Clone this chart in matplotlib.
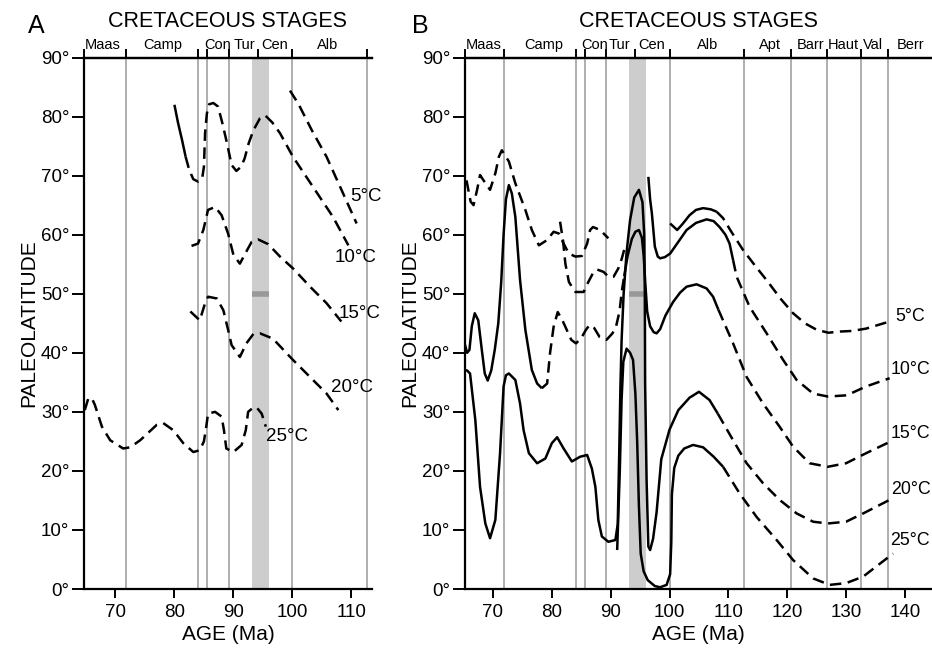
import matplotlib
matplotlib.use("Agg")
import matplotlib.pyplot as plt

plt.rcParams['font.family'] = ['Liberation Sans', 'DejaVu Sans']

# ---------------- shared axis data ----------------
lat_ticks = [0, 10, 20, 30, 40, 50, 60, 70, 80, 90]
lat_tick_labels = [f"{v}°" for v in lat_ticks]

age_ticks_a = [70, 80, 90, 100, 110]
age_ticks_b = [70, 80, 90, 100, 110, 120, 130, 140]

# stage boundaries (Ma); Tur/Cen boundary sits under the grey band
boundaries_a = [71.8, 84.0, 85.5, 89.2, 100.0, 112.6]
boundaries_b = [71.9, 84.1, 85.6, 89.2, 100.0, 112.7, 120.7, 126.8, 132.6, 137.1]
tur_cen = 94.1
band = (93.1, 96.0)
band_mark_lat = 50

stages_a = ['Maas', 'Camp', 'Con', 'Tur', 'Cen', 'Alb']
stage_pos_a = [67.9, 78.0, 87.3, 91.9, 97.0, 106.0]
stages_b = ['Maas', 'Camp', 'Con', 'Tur', 'Cen', 'Alb', 'Apt', 'Barr', 'Haut', 'Val', 'Berr']
stage_pos_b = [68.5, 78.7, 87.3, 91.5, 97.0, 106.5, 117.0, 124.0, 129.6, 134.5, 141.0]

iso_labels = ['5°C', '10°C', '15°C', '20°C', '25°C']

# ---------------- panel A isotherms (age Ma, paleolatitude) ----------------
a10_solid_age = [80.0, 80.6, 81.3, 81.9]
a10_solid_lat = [82.0, 79.0, 76.0, 73.2]
a10_dash_age = [81.9, 82.5, 83.2, 84.0, 84.7, 85.0, 85.2, 85.5, 85.9, 86.6, 87.4, 88.1,
                88.8, 89.7, 90.5, 91.3, 91.9, 92.6, 93.4, 94.5, 95.4, 96.6, 97.9, 100.1,
                103.5, 106.9, 109.5]
a10_dash_lat = [73.2, 71.0, 69.4, 69.0, 69.5, 71.5, 77.2, 80.5, 82.1, 82.3, 81.7, 79.0,
                76.0, 71.8, 70.8, 71.5, 72.9, 75.5, 77.7, 79.7, 80.2, 79.0, 77.2, 73.2,
                68.1, 63.0, 58.2]
a5_dash_age = [99.6, 101.0, 103.4, 105.8, 108.6, 110.9]
a5_dash_lat = [84.4, 82.2, 77.5, 73.2, 67.0, 61.9]
a15_dash_age = [82.9, 84.0, 84.9, 85.7, 86.9, 88.0, 89.1, 90.0, 91.1, 91.9, 93.1, 94.2,
                95.9, 97.9, 100.1, 103.0, 105.8, 108.3]
a15_dash_lat = [58.1, 58.5, 60.8, 64.2, 64.7, 63.3, 60.2, 56.6, 55.1, 56.6, 58.8, 59.2,
                58.4, 56.3, 54.3, 51.2, 48.4, 45.3]
a20_dash_age = [82.7, 84.3, 85.2, 85.7, 87.2, 88.3, 89.1, 89.7, 91.1, 92.2, 93.4, 94.5,
                96.7, 100.1, 103.5, 105.8, 107.8]
a20_dash_lat = [47.0, 45.5, 48.4, 49.5, 49.2, 47.2, 43.9, 41.3, 39.3, 41.6, 43.2, 43.3,
                42.4, 38.8, 35.4, 33.1, 30.3]
a25_dash_age = [64.8, 65.4, 66.0, 66.5, 67.7, 69.1, 71.3, 72.5, 74.2, 77.0, 78.1, 79.8,
                81.5, 83.2, 84.3, 85.0, 85.4, 85.7, 86.9, 88.0, 88.4, 88.8, 90.0, 91.4,
                92.1, 92.5, 93.2, 93.9, 94.8, 95.5]
a25_dash_lat = [30.3, 32.3, 32.3, 31.2, 27.5, 25.2, 23.8, 24.0, 25.2, 27.8, 28.1, 26.9,
                24.7, 23.2, 23.5, 25.0, 27.5, 29.7, 30.0, 29.2, 26.9, 23.8, 23.2, 24.4,
                26.9, 30.0, 30.6, 30.8, 29.7, 27.5]

label_age_a = [109.8, 107.2, 107.8, 106.6, 95.6]
label_lat_a = [66.4, 56.1, 46.7, 34.1, 25.8]

# ---------------- panel B isotherms ----------------
b5_dash1_age = [65.5, 66.2, 66.7, 67.3, 67.8, 68.4, 69.5, 70.4, 71.0, 71.5, 72.7, 73.8,
                75.5, 76.6, 77.8, 79.2, 80.3, 81.2, 82.0, 82.9, 84.0, 85.1, 86.0, 86.5,
                87.0, 88.2, 89.6]
b5_dash1_lat = [69.2, 65.6, 65.0, 67.6, 70.1, 69.2, 67.6, 70.4, 73.2, 74.3, 72.4, 68.7,
                64.2, 60.8, 58.2, 59.1, 60.5, 60.2, 58.5, 56.8, 56.3, 56.4, 58.5, 60.8,
                61.3, 60.8, 59.4]
b5_solid_age = [100.1, 101.3, 102.2, 103.4, 104.5, 105.7, 107.0, 108.0]
b5_solid_lat = [61.9, 60.8, 61.8, 63.3, 64.2, 64.5, 64.3, 63.9]
b5_dash2_age = [108.0, 109.1, 110.5, 112.5, 114.5, 116.5, 119.0, 121.0, 123.0, 125.0,
                127.0, 128.9, 131.0, 133.4, 137.4]
b5_dash2_lat = [63.9, 62.8, 60.5, 57.4, 54.8, 52.3, 49.0, 46.7, 45.0, 43.9,
                43.4, 43.6, 43.7, 44.1, 45.3]

b10_dash1_age = [81.4, 81.9, 82.3, 82.9, 83.4, 84.0, 85.4, 86.2, 87.1, 87.7, 88.8, 89.6,
                 90.5, 91.3, 91.9, 92.3]
b10_dash1_lat = [62.2, 59.0, 55.1, 52.0, 51.2, 50.3, 50.3, 52.0, 53.7, 54.1, 53.7, 52.9,
                 52.9, 54.3, 56.0, 57.5]
b10_solid_age = [96.4, 96.7, 97.0, 97.5, 98.0, 98.4, 99.2, 100.1, 101.5, 102.9, 104.5,
                 106.3, 107.5, 108.5, 109.5, 110.2, 110.8]
b10_solid_lat = [69.8, 66.0, 63.6, 58.0, 56.3, 56.0, 56.2, 56.8, 58.8, 60.8, 62.0,
                 62.6, 62.3, 61.3, 60.0, 58.5, 55.7]
b10_dash2_age = [110.8, 111.4, 113.6, 116.5, 119.3, 121.6, 124.4, 126.9, 130.1, 133.4, 137.4]
b10_dash2_lat = [55.7, 52.9, 47.8, 43.3, 38.8, 35.4, 33.1, 32.6, 32.8, 34.3, 35.7]

b15_solid1_age = [65.2, 65.6, 66.0, 66.4, 66.9, 67.5, 68.1, 68.6, 69.1, 69.7, 70.3, 70.9,
                  71.4, 71.8, 72.2, 72.7, 73.2, 73.8, 74.6, 75.5, 76.6, 77.5, 78.3]
b15_solid1_lat = [41.5, 40.0, 40.5, 44.5, 46.7, 45.5, 40.5, 36.5, 35.3, 37.0, 40.5, 45.0,
                  52.0, 60.0, 66.0, 68.4, 67.0, 63.0, 52.3, 43.9, 37.1, 34.8, 34.0]
b15_dash1_age = [78.3, 79.2, 79.7, 80.3, 81.0, 81.8, 82.3, 83.3, 84.1, 85.0, 85.8, 86.4,
                 87.2, 88.1, 89.3, 90.3, 90.9, 91.5, 91.9, 92.3]
b15_dash1_lat = [34.0, 34.8, 40.0, 44.4, 46.9, 45.5, 44.4, 42.2, 41.6, 42.5, 43.9, 44.7,
                 44.2, 42.7, 42.2, 43.3, 44.4, 47.0, 50.5, 53.0]
b15_solid2_age = [92.3, 92.9, 93.6, 94.2, 94.8, 95.3, 95.6, 95.9, 96.2, 96.7, 97.3, 97.8,
                  98.4, 99.3, 100.6, 101.8, 102.9, 104.6, 106.3, 107.4, 108.3]
b15_solid2_lat = [53.0, 56.5, 59.3, 60.5, 60.8, 59.5, 56.5, 51.5, 47.0, 44.5, 43.5, 43.3,
                  44.0, 46.3, 48.6, 50.2, 51.2, 51.6, 50.9, 49.5, 47.3]
b15_dash2_age = [108.3, 110.8, 113.1, 115.9, 118.7, 121.0, 123.8, 126.9, 130.0, 133.4, 137.4]
b15_dash2_lat = [47.3, 41.6, 35.9, 31.4, 27.5, 24.1, 21.3, 20.7, 21.3, 23.0, 24.9]

b20_solid_age = [65.2, 65.6, 66.1, 67.0, 67.8, 68.7, 69.5, 70.4, 71.2, 71.8, 72.2, 72.7,
                 73.8, 74.6, 75.2, 76.1, 77.5, 78.9, 80.0, 80.9, 82.0, 83.4, 84.8, 86.0,
                 86.8, 87.4, 87.9, 88.5, 89.6, 90.8, 91.2, 91.45, 91.65, 91.85, 92.2, 92.7,
                 93.3, 94.0, 94.8, 95.4, 95.7, 95.8, 95.85, 96.1, 96.4, 96.7, 97.2, 97.8,
                 98.6, 100.0, 101.5, 103.4, 105.0, 106.8, 108.2]
b20_solid_lat = [37.1, 37.0, 36.5, 28.6, 17.3, 11.1, 8.6, 11.7, 23.0, 34.3, 36.2, 36.5,
                 35.4, 31.4, 26.9, 23.0, 21.3, 22.1, 24.7, 25.7, 23.8, 21.6, 22.4, 22.7,
                 20.4, 17.3, 11.7, 8.9, 8.0, 8.3, 11.0, 23.0, 34.0, 42.0, 50.0, 57.0,
                 62.5, 66.3, 67.6, 65.5, 60.0, 50.0, 35.0, 18.5, 7.2, 6.6, 8.5, 13.0,
                 22.0, 27.0, 30.3, 32.4, 33.4, 32.0, 29.7]
b20_dash_age = [108.2, 110.8, 113.1, 115.9, 118.7, 121.6, 124.4, 126.9, 130.0, 132.9, 137.4]
b20_dash_lat = [29.7, 25.2, 21.3, 17.9, 15.1, 12.8, 11.4, 11.1, 11.4, 12.8, 15.1]

b25_solid_age = [91.1, 91.55, 91.85, 92.15, 92.7, 93.3, 93.8, 94.2, 94.5, 94.8, 95.1,
                 95.6, 96.3, 97.5, 98.4, 99.5, 100.1, 100.3, 100.4, 100.8, 101.5, 102.5,
                 104.0, 105.7, 107.5, 109.1]
b25_solid_lat = [6.6, 20.0, 32.0, 38.5, 40.7, 40.0, 38.8, 33.0, 25.0, 14.0, 6.0,
                 3.0, 1.5, 0.5, 0.3, 0.7, 2.5, 8.0, 16.0, 20.5, 22.6, 23.8,
                 24.4, 24.0, 22.4, 20.7]
b25_dash_age = [109.1, 111.9, 114.8, 118.2, 121.0, 124.4, 127.2, 130.0, 132.9, 135.1, 138.0]
b25_dash_lat = [20.7, 16.2, 12.2, 8.3, 4.9, 1.8, 0.7, 1.0, 2.1, 3.8, 6.0]

label_age_b = [138.3, 137.5, 137.5, 137.6, 137.5]
label_lat_b = [46.1, 37.1, 26.4, 16.8, 8.3]

curves_a = [
    (a10_solid_age, a10_solid_lat, '-'),
    (a10_dash_age, a10_dash_lat, '--'),
    (a5_dash_age, a5_dash_lat, '--'),
    (a15_dash_age, a15_dash_lat, '--'),
    (a20_dash_age, a20_dash_lat, '--'),
    (a25_dash_age, a25_dash_lat, '--'),
]
curves_b = [
    (b5_dash1_age, b5_dash1_lat, '--'),
    (b5_solid_age, b5_solid_lat, '-'),
    (b5_dash2_age, b5_dash2_lat, '--'),
    (b10_dash1_age, b10_dash1_lat, '--'),
    (b10_solid_age, b10_solid_lat, '-'),
    (b10_dash2_age, b10_dash2_lat, '--'),
    (b15_solid1_age, b15_solid1_lat, '-'),
    (b15_dash1_age, b15_dash1_lat, '--'),
    (b15_solid2_age, b15_solid2_lat, '-'),
    (b15_dash2_age, b15_dash2_lat, '--'),
    (b20_solid_age, b20_solid_lat, '-'),
    (b20_dash_age, b20_dash_lat, '--'),
    (b25_solid_age, b25_solid_lat, '-'),
    (b25_dash_age, b25_dash_lat, '--'),
]

GREY_LINE = '#a8a8a8'
BAND = '#cdcdcd'
BAND_MARK = '#999999'
LW = 1.8
DASH = (0, (4.6, 2.6))


def draw_panel(ax, xlim, boundaries, age_ticks, stages, stage_pos, curves,
               label_age, label_lat, label_size):
    ax.set_xlim(*xlim)
    ax.set_ylim(0, 90)

    # stage background
    ax.axvspan(band[0], band[1], color=BAND, lw=0, zorder=0)
    ax.hlines(band_mark_lat, band[0], band[1], color=BAND_MARK, lw=4, zorder=1)
    for b in boundaries:
        ax.axvline(b, color=GREY_LINE, lw=1.3, zorder=1)

    for ages, lats, style in curves:
        ls = '-' if style == '-' else DASH
        ax.plot(ages, lats, color='black', lw=LW, ls=ls, zorder=3,
                solid_capstyle='butt', dash_capstyle='butt')

    for txt, x, y in zip(iso_labels, label_age, label_lat):
        ax.text(x, y, txt, fontsize=label_size, ha='left', va='center', zorder=4,
                clip_on=False)

    for sp in ['left', 'top', 'bottom']:
        ax.spines[sp].set_linewidth(1.6)
    ax.spines['right'].set_visible(False)

    ax.set_yticks(lat_ticks, labels=lat_tick_labels)
    ax.set_xticks(age_ticks)
    ax.tick_params(axis='y', direction='out', length=9, width=1.4, pad=1.5,
                   labelsize=13.5)
    ax.tick_params(axis='x', direction='out', length=6.5, width=1.4, pad=4,
                   labelsize=13.5)
    ax.set_xlabel('AGE (Ma)', fontsize=15, labelpad=3)
    ax.set_ylabel('PALEOLATITUDE', fontsize=15, labelpad=2)

    # stage boundary ticks along the top
    top = ax.secondary_xaxis('top')
    top.set_xticks([xlim[0]] + sorted(boundaries + [tur_cen]))
    top.set_xticklabels([])
    top.tick_params(direction='out', length=6.5, width=1.4)
    top.spines['top'].set_linewidth(1.6)

    trans = ax.get_xaxis_transform()
    for name, x in zip(stages, stage_pos):
        ax.text(x, 1.016, name, transform=trans, fontsize=10.5, ha='center',
                va='baseline', clip_on=False)
    ax.text(0.5, 1.058, 'CRETACEOUS STAGES', transform=ax.transAxes,
            fontsize=15.5, ha='center', va='baseline')


fig = plt.figure(figsize=(9.32, 6.51), dpi=100)
ax_a = fig.add_axes([0.0901, 0.0952, 0.309, 0.8164])
ax_b = fig.add_axes([0.4989, 0.0952, 0.5011, 0.8164])

draw_panel(ax_a, (64.66, 113.5), boundaries_a, age_ticks_a, stages_a, stage_pos_a,
           curves_a, label_age_a, label_lat_a, 13.5)
draw_panel(ax_b, (65.24, 144.6), boundaries_b, age_ticks_b, stages_b, stage_pos_b,
           curves_b, label_age_b, label_lat_b, 12.8)

fig.text(0.030, 0.949, 'A', fontsize=18, ha='left', va='baseline')
fig.text(0.442, 0.949, 'B', fontsize=18, ha='left', va='baseline')

fig.savefig('out.png', dpi=100)
